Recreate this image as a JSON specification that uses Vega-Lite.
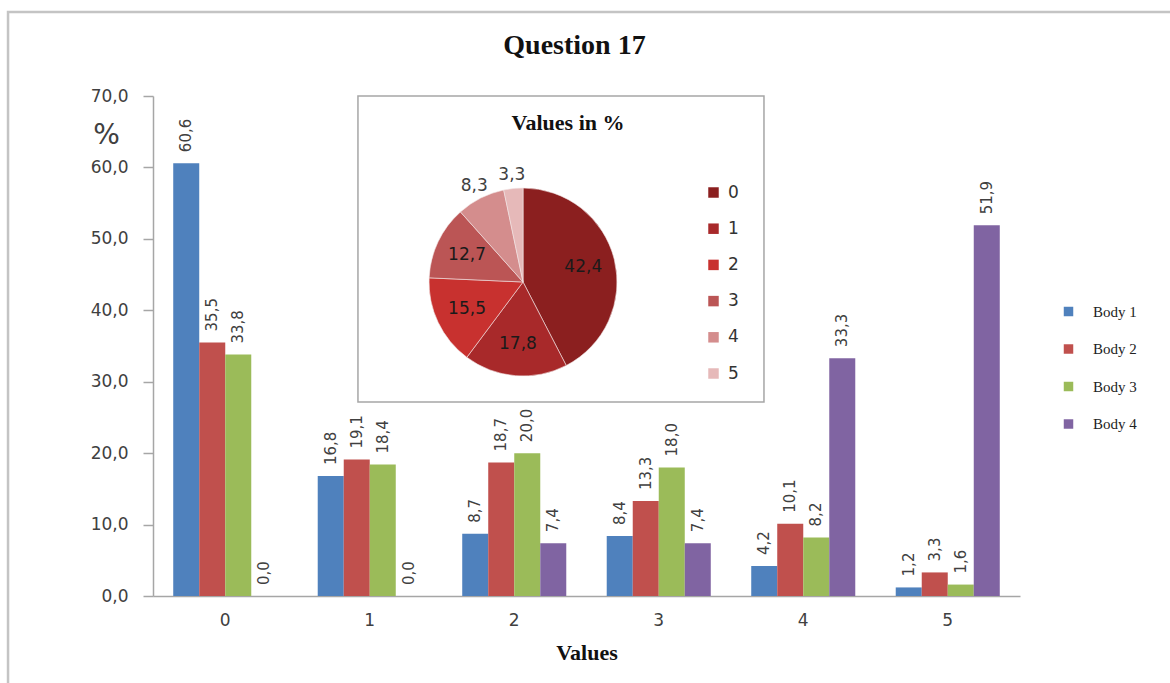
{
  "$schema": "https://vega.github.io/schema/vega-lite/v6.json",
  "width": 867,
  "height": 500,
  "autosize": {"type": "none"},
  "padding": {"left": 153, "top": 96, "right": 150, "bottom": 87},
  "background": "white",
  "config": {
    "locale": {"number": {"decimal": ",", "thousands": ".", "grouping": [3], "currency": ["", " €"]}},
    "view": {"stroke": null},
    "font": "DejaVu Sans"
  },
  "title": {
    "text": "Question 17",
    "font": "Liberation Serif",
    "fontSize": 28,
    "fontWeight": "bold",
    "color": "#111111",
    "anchor": "middle",
    "baseline": "alphabetic",
    "dx": -12,
    "offset": -71
  },
  "datasets": {
    "bodies": [
      {"cat": "0", "body": "Body 1", "v": 60.6},
      {"cat": "0", "body": "Body 2", "v": 35.5},
      {"cat": "0", "body": "Body 3", "v": 33.8},
      {"cat": "0", "body": "Body 4", "v": 0.0},
      {"cat": "1", "body": "Body 1", "v": 16.8},
      {"cat": "1", "body": "Body 2", "v": 19.1},
      {"cat": "1", "body": "Body 3", "v": 18.4},
      {"cat": "1", "body": "Body 4", "v": 0.0},
      {"cat": "2", "body": "Body 1", "v": 8.7},
      {"cat": "2", "body": "Body 2", "v": 18.7},
      {"cat": "2", "body": "Body 3", "v": 20.0},
      {"cat": "2", "body": "Body 4", "v": 7.4},
      {"cat": "3", "body": "Body 1", "v": 8.4},
      {"cat": "3", "body": "Body 2", "v": 13.3},
      {"cat": "3", "body": "Body 3", "v": 18.0},
      {"cat": "3", "body": "Body 4", "v": 7.4},
      {"cat": "4", "body": "Body 1", "v": 4.2},
      {"cat": "4", "body": "Body 2", "v": 10.1},
      {"cat": "4", "body": "Body 3", "v": 8.2},
      {"cat": "4", "body": "Body 4", "v": 33.3},
      {"cat": "5", "body": "Body 1", "v": 1.2},
      {"cat": "5", "body": "Body 2", "v": 3.3},
      {"cat": "5", "body": "Body 3", "v": 1.6},
      {"cat": "5", "body": "Body 4", "v": 51.9}
    ],
    "overall": [
      {"cat": "0", "v": 42.4},
      {"cat": "1", "v": 17.8},
      {"cat": "2", "v": 15.5},
      {"cat": "3", "v": 12.7},
      {"cat": "4", "v": 8.3},
      {"cat": "5", "v": 3.3}
    ]
  },
  "resolve": {
    "scale": {"x": "independent", "y": "independent", "color": "independent"},
    "axis": {"x": "independent", "y": "independent"},
    "legend": {"color": "independent"}
  },
  "layer": [
    {
      "data": {"values": [{}]},
      "mark": {"type": "rect", "fill": null, "stroke": "#c4c4c4", "strokeWidth": 2.5},
      "encoding": {
        "x": {"datum": -0.1672, "type": "quantitative", "scale": {"domain": [0, 1], "nice": false}, "axis": null},
        "x2": {"datum": 1.2},
        "y": {"datum": 1.168, "type": "quantitative", "scale": {"domain": [0, 1], "nice": false}, "axis": null},
        "y2": {"datum": -0.3}
      }
    },
    {
      "data": {"name": "bodies"},
      "encoding": {
        "x": {
          "field": "cat",
          "type": "nominal",
          "title": "Values",
          "scale": {"paddingInner": 0.28, "paddingOuter": 0.14},
          "axis": {
            "labelAngle": 0,
            "labelFont": "DejaVu Sans",
            "labelFontSize": 17,
            "labelColor": "#404040",
            "labelPadding": 16,
            "ticks": false,
            "domainColor": "#a6a6a6",
            "domainWidth": 1.5,
            "titleFont": "Liberation Serif",
            "titleFontSize": 22,
            "titleFontWeight": "bold",
            "titleColor": "#111111",
            "titlePadding": 14
          }
        },
        "xOffset": {"field": "body", "type": "nominal"},
        "y": {
          "field": "v",
          "type": "quantitative",
          "title": "%",
          "scale": {"domain": [0, 70], "nice": false},
          "axis": {
            "values": [0, 10, 20, 30, 40, 50, 60, 70],
            "format": ".1f",
            "labelFont": "DejaVu Sans",
            "labelFontSize": 17,
            "labelColor": "#404040",
            "labelPadding": 15,
            "tickSize": 10,
            "tickColor": "#a6a6a6",
            "tickWidth": 1.5,
            "domainColor": "#a6a6a6",
            "domainWidth": 1.5,
            "gridColor": "#a6a6a6",
            "gridWidth": 1.5,
            "titleAngle": 0,
            "titleFont": "DejaVu Sans",
            "titleFontSize": 28,
            "titleFontWeight": "normal",
            "titleColor": "#404040",
            "titleAlign": "center",
            "titleBaseline": "alphabetic",
            "titleX": -47,
            "titleY": 47
          }
        }
      },
      "layer": [
        {
          "mark": {"type": "bar"},
          "encoding": {
            "color": {
              "field": "body",
              "type": "nominal",
              "scale": {"range": ["#4f81bd", "#c0504d", "#9bbb59", "#8064a2"]},
              "legend": {
                "orient": "none",
                "legendX": 908,
                "legendY": 208,
                "title": null,
                "padding": 0,
                "symbolType": "square",
                "symbolSize": 90,
                "symbolStrokeWidth": 0,
                "labelFont": "Liberation Serif",
                "labelFontSize": 15,
                "labelColor": "#222222",
                "labelOffset": 17,
                "rowPadding": 21.5
              }
            }
          }
        },
        {
          "mark": {"type": "text", "angle": -90, "align": "left", "baseline": "middle", "dx": 11, "font": "DejaVu Sans", "fontSize": 15, "fill": "#404040"},
          "encoding": {"text": {"field": "v", "type": "quantitative", "format": ".1f"}}
        }
      ]
    },
    {
      "data": {"name": "overall"},
      "encoding": {
        "x": {"datum": 0.4268, "type": "quantitative", "scale": {"domain": [0, 1], "nice": false}, "axis": null},
        "y": {"datum": 0.628, "type": "quantitative", "scale": {"domain": [0, 1], "nice": false}, "axis": null}
      },
      "layer": [
        {
          "data": {"values": [{}]},
          "mark": {"type": "rect", "fill": "white", "stroke": "#a6a6a6", "strokeWidth": 1.5},
          "encoding": {
            "x": {"datum": 0.2364, "type": "quantitative"},
            "x2": {"datum": 0.7047},
            "y": {"datum": 1.0, "type": "quantitative"},
            "y2": {"datum": 0.388}
          }
        },
        {
          "data": {"values": [{}]},
          "mark": {"type": "text", "font": "Liberation Serif", "fontSize": 22, "fontWeight": "bold", "fill": "#111111", "align": "center", "baseline": "middle"},
          "encoding": {
            "x": {"datum": 0.4787, "type": "quantitative"},
            "y": {"datum": 0.946, "type": "quantitative"},
            "text": {"value": "Values in %"}
          }
        },
        {
          "mark": {"type": "arc", "outerRadius": 94, "stroke": "#f2e6e6", "strokeWidth": 0.6},
          "encoding": {
            "theta": {"field": "v", "type": "quantitative", "stack": true},
            "order": {"field": "cat", "type": "ordinal"},
            "color": {
              "field": "cat",
              "type": "nominal",
              "scale": {"range": ["#8b1f1f", "#a8292a", "#c8312f", "#bb5555", "#d48d8d", "#e6b9b9"]},
              "legend": {
                "orient": "none",
                "legendX": 552,
                "legendY": 88,
                "title": null,
                "padding": 0,
                "symbolType": "square",
                "symbolSize": 110,
                "symbolStrokeWidth": 0,
                "labelFont": "DejaVu Sans",
                "labelFontSize": 17,
                "labelColor": "#333333",
                "labelOffset": 6,
                "rowPadding": 18.2
              }
            }
          }
        },
        {
          "mark": {"type": "text", "radius": 62, "font": "DejaVu Sans", "fontSize": 17, "fill": "#1a1a1a", "align": "center", "baseline": "middle"},
          "encoding": {
            "theta": {"field": "v", "type": "quantitative", "stack": true},
            "order": {"field": "cat", "type": "ordinal"},
            "text": {"condition": {"test": "datum.v >= 10", "field": "v", "type": "quantitative", "format": ".1f"}, "value": ""}
          }
        },
        {
          "mark": {"type": "text", "radius": 108, "font": "DejaVu Sans", "fontSize": 17, "fill": "#404040", "align": "center", "baseline": "middle"},
          "encoding": {
            "theta": {"field": "v", "type": "quantitative", "stack": true},
            "order": {"field": "cat", "type": "ordinal"},
            "text": {"condition": {"test": "datum.v < 10", "field": "v", "type": "quantitative", "format": ".1f"}, "value": ""}
          }
        }
      ]
    }
  ]
}
